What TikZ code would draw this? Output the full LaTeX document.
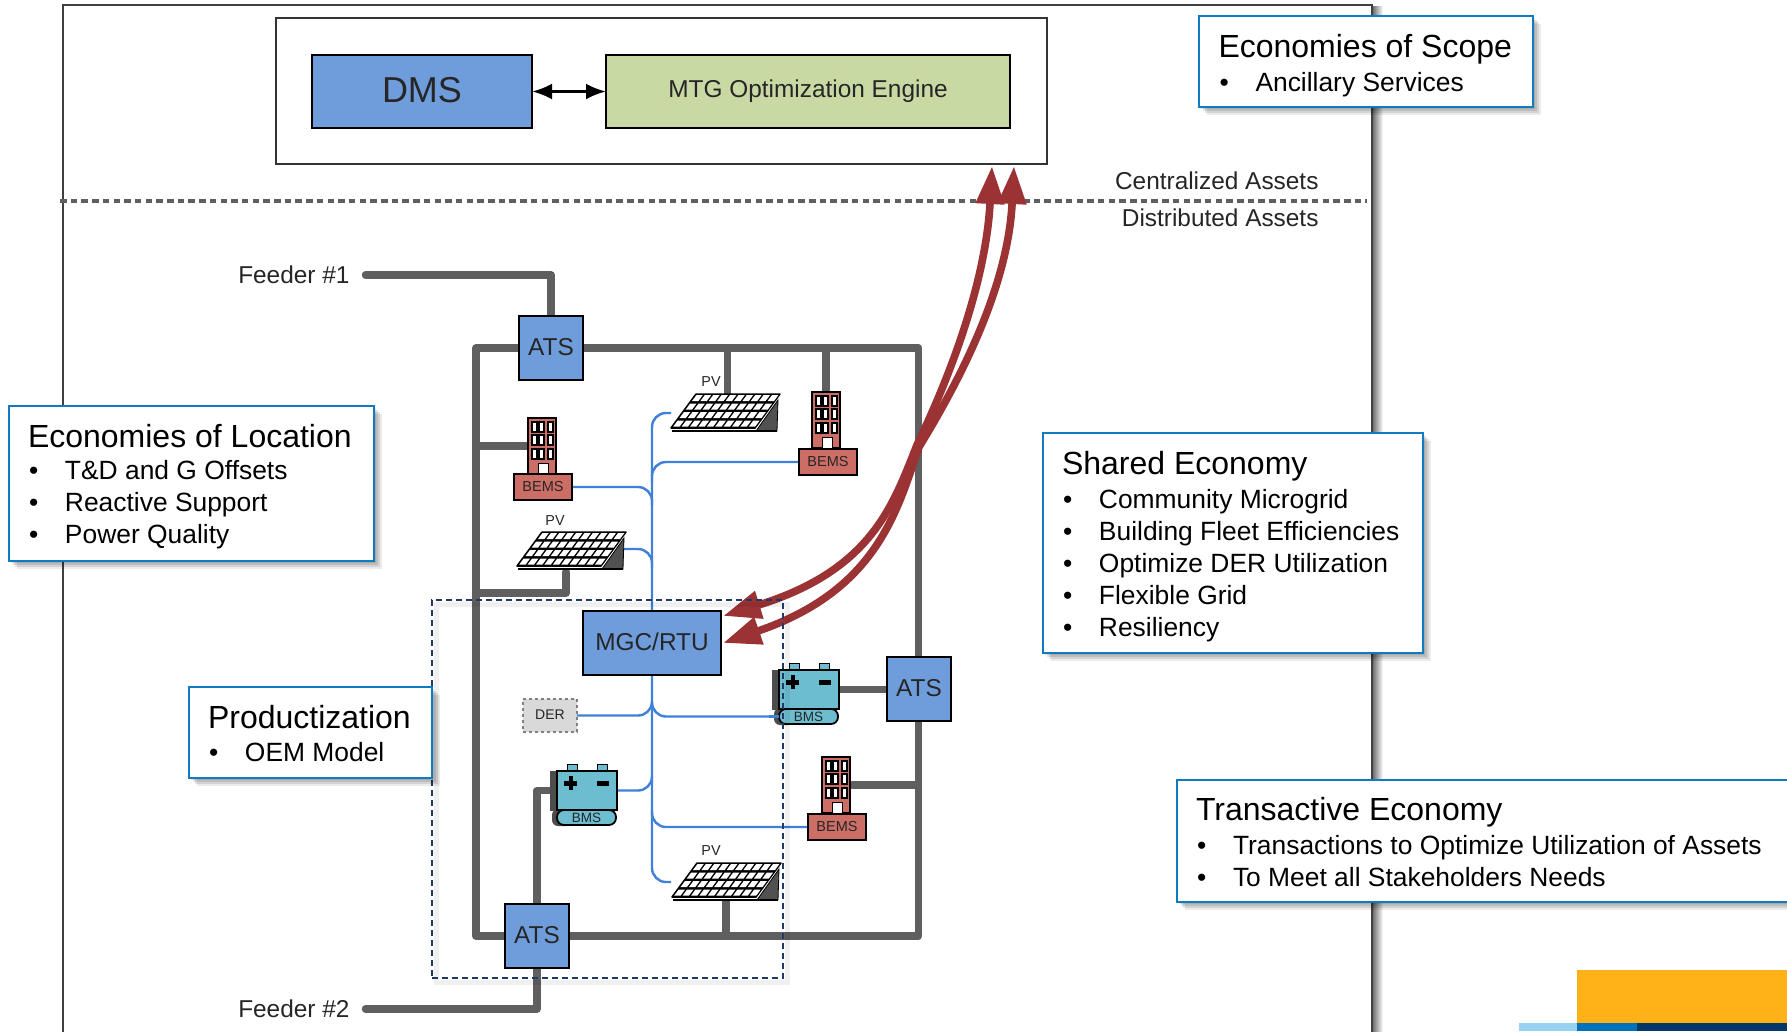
\documentclass[tikz,border=0pt]{standalone}
\usepackage{fontspec}
\setmainfont{Liberation Sans}
\usetikzlibrary{arrows.meta,calc}
\pgfdeclarelayer{backdrop}
\pgfdeclarelayer{lines}
\pgfsetlayers{backdrop,lines,main}
\definecolor{busgray}{HTML}{5F5F5F}
\definecolor{wireblue}{HTML}{3F80D8}
\definecolor{boxblue}{HTML}{6F9DDB}
\definecolor{engreen}{HTML}{C8D9A4}
\definecolor{redfill}{HTML}{CC6E66}
\definecolor{arrowred}{HTML}{9B3234}
\definecolor{batblue}{HTML}{6DBDD0}
\definecolor{navy}{HTML}{1F3864}
\definecolor{calloutblue}{HTML}{0F7CC0}
\definecolor{inktext}{HTML}{262626}
\definecolor{logoorange}{HTML}{FFB217}
\definecolor{logolight}{HTML}{98D2F3}
\definecolor{logomid}{HTML}{0072BC}
\definecolor{logodark}{HTML}{00386B}
\newcommand{\fs}[1]{\fontsize{#1}{#1}\selectfont}
\newcommand{\lift}[2][2.5pt]{\raisebox{#1}{#2}}
\newcommand{\ctitle}[2]{{\fontsize{32}{36}\selectfont #2\par}\vspace{#1}}
\newcommand{\cbul}[1]{{\fontsize{26.4}{32}\selectfont\makebox[37pt][l]{\hspace{1pt}•}#1\par}}
\tikzset{
  every node/.append style={outer sep=0pt},
  softshadow/.style={
    preaction={fill=black,opacity=.10,transform canvas={shift={(2pt,-2pt)}}},
    preaction={fill=black,opacity=.10,transform canvas={shift={(4pt,-4pt)}}},
    preaction={fill=black,opacity=.10,transform canvas={shift={(6pt,-6pt)}}},
    preaction={fill=black,opacity=.08,transform canvas={shift={(8pt,-8pt)}}}},
  callout/.style={draw=calloutblue,line width=2pt,fill=white,softshadow,anchor=north west,inner sep=0pt},
  callouttext/.style={anchor=north west,align=flush left,inner sep=0pt,text=black},
  bluebox/.style={draw=black,line width=2.1pt,fill=boxblue,text=inktext,inner sep=0pt,font=\fs{24.4}},
  atsbox/.style={bluebox,minimum width=64pt,minimum height=64pt,anchor=north west},
  bemsbox/.style={draw=black,line width=1.5pt,fill=redfill,minimum width=58pt,minimum height=26pt,inner sep=0pt,font=\fs{14.5},text=inktext,anchor=north west},
  towerbox/.style={draw=black,line width=1.5pt,fill=redfill,minimum width=28pt,minimum height=56pt,inner sep=0pt,anchor=north west},
  batbody/.style={draw=black,line width=1.2pt,fill=batblue,minimum width=60pt,minimum height=39pt,inner sep=0pt,anchor=north west},
  batpill/.style={draw=black,line width=1.8pt,fill=batblue,rounded corners=7pt,minimum width=59pt,minimum height=15pt,inner sep=0pt,font=\fs{13.5},text=inktext,anchor=north west},
  busline/.style={draw=busgray,line width=7.5pt,line join=round,line cap=round},
  stubline/.style={busline,line cap=butt},
  wire/.style={draw=wireblue,line width=2.4pt,rounded corners=14pt},
  biglabel/.style={font=\fs{24.4},text=inktext,inner sep=0pt},
  pvlabel/.style={font=\fs{14.4},text=inktext,inner sep=0pt},
  redarrow/.style={draw=arrowred,line width=7.6pt,
    {Triangle[length=38pt,width=27pt,fill=arrowred]}-{Triangle[length=38pt,width=27pt,fill=arrowred]}},
  pvpanel/.pic={
    \fill[busgray!85!black,draw=black,line width=.8pt] (82,6) -- (81,37) -- (60,37) -- cycle;
    \draw[black,line width=2pt] (-24,37) -- (81,37);
    \begin{scope}[x={(84pt,0pt)},y={(-25pt,-34pt)}]
      \fill[black,draw=black,line width=1.5pt,line join=round] (0,0) -- (1,0) -- (1,1) -- (0,1) -- cycle;
      \foreach \r in {0,1,2,3}{\foreach \c in {0,...,9}{
        \fill[white] ({(\c+.14)/10},{(\r+.12)/4}) -- ({(\c+.9)/10},{(\r+.12)/4}) -- ({(\c+.9)/10},{(\r+.84)/4}) -- ({(\c+.14)/10},{(\r+.84)/4}) -- cycle;
      }}
    \end{scope}
  },
  towerwin/.pic={
    \foreach \yy in {4,17,31}{
      \foreach \xx in {4,11,20}{
        \fill[white,draw=black,line width=1.1pt] (\xx,\yy) rectangle ++(5,10);
      }
    }
    \fill[white,draw=black,line width=.5pt] (10,45) rectangle (20,56);
  },
  batback/.pic={
    \fill[black!70] (-7,0) rectangle (0,40);
    \fill[batblue,draw=black,line width=.6pt] (10.5,-7) rectangle (20,0);
    \fill[batblue,draw=black,line width=.6pt] (40,-7) rectangle (50,0);
    \fill[black!70,rounded corners=6pt] (-5,38) rectangle (15,55);
  },
  batmarks/.pic={
    \fill[black] (11.5,5) rectangle (15.5,19);
    \fill[black] (7,9.5) rectangle (20,14.5);
    \fill[black] (39.5,10) rectangle (52,14.5);
  }
}
\begin{document}
\begin{tikzpicture}[x=1pt,y=-1pt]
\useasboundingbox (0,0) rectangle (1787,1031);
\clip (0,0) rectangle (1787,1031);
\begin{pgfonlayer}{backdrop}
\fill[white] (0,0) rectangle (1787,1031);
\shade[left color=black!55,right color=white] (1373,6) rectangle (1383,1031);
\draw[black!75,line width=1.6pt] (63,1040) -- (63,5) -- (1372,5) -- (1372,1040);
\fill[logoorange] (1577,970) rectangle (1787,1023);
\fill[logolight] (1519,1023) rectangle (1577,1031);
\fill[logomid] (1577,1023) rectangle (1637,1031);
\fill[logodark] (1637,1023) rectangle (1787,1031);
\coordinate (divL) at (60,201);
\coordinate (divR) at (1367,201);
\draw[busgray,line width=3.6pt,dash pattern=on 6.5pt off 4.2pt] (divL) -- (divR);
\end{pgfonlayer}
% top block
\node[draw=black!80,line width=2pt,fill=white,minimum width=771pt,minimum height=146pt,anchor=north west,inner sep=0pt] (topbox) at (275.5,17.5) {};
\node[bluebox,minimum width=220pt,minimum height=73pt,anchor=north west,font=\fs{36}] (dms) at (312,55) {\lift{DMS}};
\node[draw=black,line width=2.1pt,fill=engreen,minimum width=404pt,minimum height=73pt,anchor=north west,inner sep=0pt,font=\fs{24.4},text=inktext] (mtg) at (606,55) {\lift[1pt]{MTG Optimization Engine}};
\draw[black,line width=3pt,{Latex[length=20pt,width=16pt]}-{Latex[length=20pt,width=16pt]}] (dms.east) -- (mtg.west);
\node[biglabel,anchor=east] (central) at (1318.5,180.5) {Centralized Assets};
\node[biglabel,anchor=east] (distrib) at (1318.5,217.5) {Distributed Assets};
\node[biglabel,anchor=east] (feederA) at (349.5,275) {Feeder \#1};
\node[biglabel,anchor=east] (feederB) at (349.5,1009) {Feeder \#2};
% blue boxes
\node[atsbox] (atsT) at (519,316) {\lift{ATS}};
\node[atsbox] (atsR) at (887,657) {\lift[3pt]{ATS}};
\node[atsbox] (atsB) at (505,904) {\lift{ATS}};
\node[bluebox,minimum width=138pt,minimum height=64pt,anchor=north west] (mgc) at (583,611) {\lift{MGC/RTU}};
% named places
\coordinate (busTL) at (476,348);
\coordinate (busTR) at (918.6,348);
\coordinate (busBR) at (918.6,936);
\coordinate (busBL) at (476,936);
\coordinate (pvAtop) at (727.5,396);
\coordinate (pvBbot) at (566,572);
\coordinate (pvCbot) at (726,900);
\coordinate (pvBbus) at (566,593);
\coordinate (pvAend) at (671,413);
\coordinate (pvBend) at (623,549);
\coordinate (pvCend) at (671,882);
\coordinate (jRt) at (652,482);
\coordinate (jLt) at (652,505);
\coordinate (jPv) at (652,568);
\coordinate (jMid) at (652,702);
\coordinate (jBat) at (652,776);
\coordinate (jBem) at (652,811);
% devices
\pic at (696,394) {pvpanel};
\pic at (542,532) {pvpanel};
\pic at (697,863) {pvpanel};
\node[pvlabel] (pvAl) at (711,382) {PV};
\node[pvlabel] (pvBl) at (555,521) {PV};
\node[pvlabel] (pvCl) at (711,851) {PV};
\node[towerbox] (towerR) at (812,392) {};
\pic at (812,392) {towerwin};
\node[bemsbox] (bemsR) at (799,449) {\lift[1.5pt]{BEMS}};
\node[towerbox] (towerL) at (528,418) {};
\pic at (528,418) {towerwin};
\node[bemsbox] (bemsL) at (514,474) {\lift[1.5pt]{BEMS}};
\node[towerbox] (towerB) at (822,757) {};
\pic at (822,757) {towerwin};
\node[bemsbox] (bemsB) at (808,814) {\lift[1.5pt]{BEMS}};
\pic at (779,670) {batback};
\pic at (557,771) {batback};
\node[batbody] (batR) at (779,670) {};
\node[batbody] (batL) at (557,771) {};
\pic at (779,670) {batmarks};
\pic at (557,771) {batmarks};
\node[batpill] (pillR) at (779,709) {BMS};
\node[batpill] (pillL) at (557,810) {BMS};
\node[draw=black!50,dashed,line width=1.5pt,fill=black!15,minimum width=54pt,minimum height=33pt,anchor=north west,inner sep=0pt,font=\fs{14},text=inktext] (der) at (523,699) {\lift[1pt]{DER}};
\draw[wireblue,line width=2.4pt] (pillR.west) -- ([xshift=-10pt]pillR.west);
% busbars and wires run under the devices
\begin{pgfonlayer}{lines}
\draw[busline] (busTL) -- (busTR) -- (busBR) -- (busBL) -- cycle;
\draw[busline] ([xshift=16pt]feederA.east) -| (atsT.north);
\draw[busline] ([xshift=16pt]feederB.east) -| (atsB.south);
\draw[busline] (atsB.north) |- (batL.west);
\draw[stubline] (batR.east) -- (batR.east -| atsR.west);
\draw[stubline] (pvAtop |- busTL) -- (pvAtop);
\draw[stubline] (towerR.north |- busTL) -- (towerR.north);
\draw[stubline] (towerL.west -| busTL) -- (towerL.west);
\draw[busline] (pvBbot) -- (pvBbus) -- (pvBbus -| busBL);
\draw[stubline] (towerB.east -| busTR) -- (towerB.east);
\draw[stubline] (pvCbot) -- (pvCbot |- busBL);
\draw[wire] (pvAend) -| (mgc.north);
\draw[wire] (pvCend) -| (mgc.south);
\draw[wire] (bemsR.west) -| (jRt);
\draw[wire] (bemsL.east) -| (jLt);
\draw[wire] (pvBend) -| (jPv);
\draw[wire] (der.east) -| (jMid);
\draw[wire] (pillR.west) -| (jMid);
\draw[wire] (batL.east) -| (jBat);
\draw[wire] (bemsB.west) -| (jBem);
\end{pgfonlayer}
% red arrows
\coordinate (redA) at (992,166);
\coordinate (redB) at (1014,166);
\draw[redarrow] (redA) .. controls (986,280) and (952,372) .. (917,445) .. controls (893,505) and (872,570) .. ([shift={(2,5)}]mgc.north east);
\draw[redarrow] (redB) .. controls (1008,285) and (963,375) .. (919,447) .. controls (897,510) and (878,590) .. ([shift={(2,0)}]mgc.east);
% dashed group
\draw[black,opacity=.06,line width=5pt] (436,604) rectangle (787,982);
\node[draw=navy,line width=1.6pt,dash pattern=on 6pt off 4pt,minimum width=351pt,minimum height=378pt,anchor=north west,inner sep=0pt] (group) at (432,600) {};
% callouts
\node[callout,minimum width=334pt,minimum height=91pt] (scope) at (1199,16) {};
\node[callouttext,text width=300pt] (scopeT) at (1218.5,34)
  {\ctitle{2.5pt}{Economies of Scope}\cbul{Ancillary Services}};
\node[callout,minimum width=365pt,minimum height=155pt] (location) at (9,406) {};
\node[callouttext,text width=330pt] (locationT) at (28,424.5)
  {\ctitle{0pt}{Economies of Location}\cbul{T\&D and G Offsets}\cbul{Reactive Support}\cbul{Power Quality}};
\node[callout,minimum width=243pt,minimum height=91pt] (product) at (189,687) {};
\node[callouttext,text width=210pt] (productT) at (208,705.5)
  {\ctitle{1pt}{Productization}\cbul{OEM Model}};
\node[callout,minimum width=380pt,minimum height=220pt] (shared) at (1043,433) {};
\node[callouttext,text width=345pt] (sharedT) at (1062,451.5)
  {\ctitle{1.5pt}{Shared Economy}\cbul{Community Microgrid}\cbul{Building Fleet Efficiencies}\cbul{Optimize DER Utilization}\cbul{Flexible Grid}\cbul{Resiliency}};
\node[callout,minimum width=680pt,minimum height=122pt] (trans) at (1177,780) {};
\node[callouttext,text width=600pt] (transT) at (1196,797.5)
  {\ctitle{1.5pt}{Transactive Economy}\cbul{Transactions to Optimize Utilization of Assets}\cbul{To Meet all Stakeholders Needs}};
\end{tikzpicture}
\end{document}
